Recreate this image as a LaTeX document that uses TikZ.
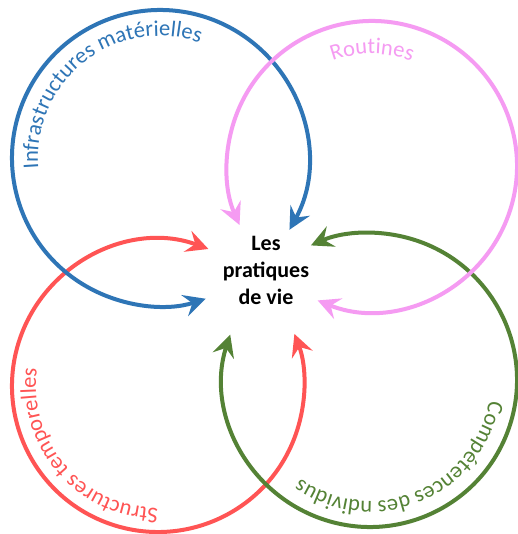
\documentclass[tikz,border=0pt]{standalone}
\usepackage{fontspec}
\setmainfont{Carlito}
\usetikzlibrary{arrows.meta,decorations.text,calc}
\definecolor{cblue}{HTML}{2E75B6}
\definecolor{cpink}{HTML}{F59BF2}
\definecolor{cgreen}{HTML}{548235}
\definecolor{cred}{HTML}{FF5454}
\newcommand{\arcfont}{\fontsize{22.5}{26}\selectfont}

\begin{document}
\begin{tikzpicture}[x=1pt,y=1pt,
  tip/.tip={Stealth[length=22pt,width=22pt,inset=8pt]},
  loop/.style={line width=4pt, tip-tip},
  arclabel/.style={decorate, decoration={text along path, text align=center, text={#1}}}]
  \fill[white] (0,0) rectangle (517,534);
  \useasboundingbox (0,0) rectangle (517,534);

  % circle centres
  \coordinate (cb) at (160,376);
  \coordinate (cp) at (372,368);
  \coordinate (cg) at (370,154);
  \coordinate (cr) at (158,148);

  % central label
  \node[align=center, font=\bfseries\fontsize{22}{27}\selectfont] (vie) at (266,264)
    {Les\\pratiques\\de vie};

  % the four open circles, each with both ends pointing at the centre
  \draw[loop, cred]   ($(cr)+(69.8:146)$)  arc[start angle=69.8, end angle=380.9, radius=146];
  \draw[loop, cblue]  ($(cb)+(-29:148)$)   arc[start angle=-29, end angle=288, radius=148];
  \draw[loop, cgreen] ($(cg)+(162:147)$)   arc[start angle=162, end angle=473.7, radius=147];
  \draw[loop, cpink]  ($(cp)+(-112:145)$)  arc[start angle=-112, end angle=204, radius=145];

  % labels running along the inside of each circle
  \path[arclabel={|\arcfont\color{cblue}|Infrastructures matérielles}]
    ($(cb)+(215:122)$) arc[start angle=215, end angle=41, radius=122];
  \path[arclabel={|\arcfont\color{cpink}|Routines}]
    ($(cp)+(150:112)$) arc[start angle=150, end angle=30, radius=112];
  \path[arclabel={|\arcfont\color{cgreen}|Compétences des ndividus}]
    ($(cg)+(22.5:121)$) arc[start angle=22.5, end angle=-157.5, radius=121];
  \path[arclabel={|\arcfont\color{cred}|Structures temporelles}]
    ($(cr)+(311:122)$) arc[start angle=311, end angle=131, radius=122];
\end{tikzpicture}
\end{document}
